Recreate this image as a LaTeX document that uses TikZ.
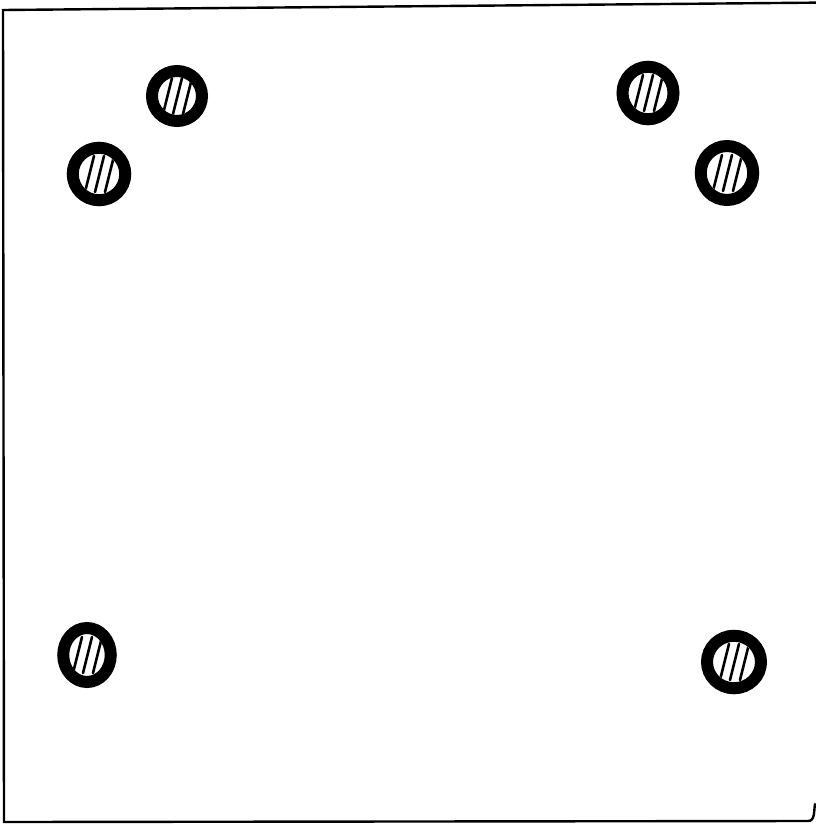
\documentclass[tikz,border=0pt]{standalone}
\usetikzlibrary{calc}
\begin{document}
\begin{tikzpicture}[x=1pt,y=-1pt,
  hole/.style={circle,draw=black,line width=12pt,minimum size=50pt,inner sep=0pt,fill=white},
  hatch/.style={line width=2.6pt,black,line cap=round},
  frame/.style={line width=2.4pt,black,line cap=round}]
\useasboundingbox (0,0) rectangle (816,825);
\fill[white] (0,0) rectangle (816,825);
% frame
\coordinate (tl) at (3,10);
\coordinate (tr) at (820,2.6);
\coordinate (bl) at (4,822);
\coordinate (br) at (808,821);
\coordinate (brc) at (815,804);
\draw[frame,line join=miter] (tr) -- (tl) -- (bl) -- (br) to[out=0,in=260] (brc);
% holes
\foreach \n/\x/\y/\sx/\sy in {h1/177/96/1/1, h2/99/174/1.05/1.05, h3/87/655/0.95/1.08,
    h4/734/662/1.08/1.05, h5/648/93/1.02/1.05, h6/727/173/1.05/1.08}{
  \node[hole,xscale=\sx,yscale=\sy] (\n) at (\x,\y) {};
  \begin{scope}
    \clip (\n.center) circle[x radius=19*\sx, y radius=19*\sy];
    \draw[hatch] ($(\n.center)+(-14,18)$) -- ++(9,-36);
    \draw[hatch] ($(\n.center)+(-4,18)$) -- ++(9,-36);
    \draw[hatch] ($(\n.center)+(6,18)$) -- ++(9,-36);
  \end{scope}
}
\end{tikzpicture}
\end{document}
